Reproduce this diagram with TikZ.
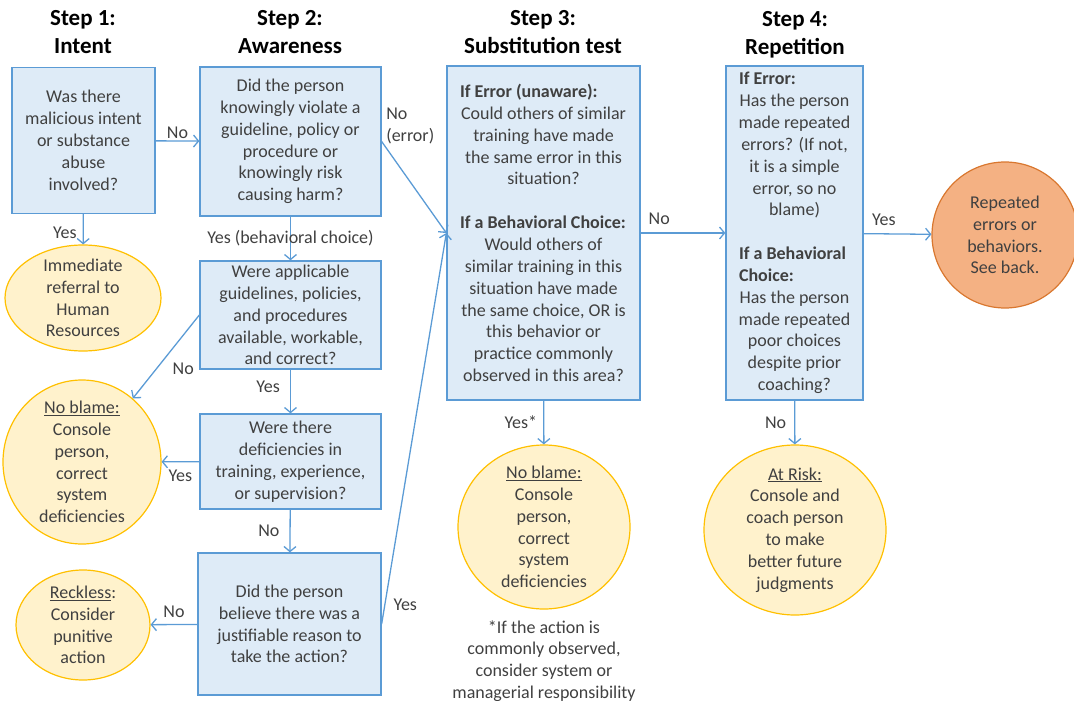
\documentclass[tikz,border=0pt]{standalone}
\usepackage{fontspec}
\setmainfont{Carlito}
\usetikzlibrary{shapes.geometric,arrows.meta}
\definecolor{qfill}{HTML}{DEEBF7}
\definecolor{qline}{HTML}{5B9BD5}
\definecolor{afill}{HTML}{FFF2CC}
\definecolor{aline}{HTML}{FFC000}
\definecolor{rfill}{HTML}{F4B183}
\definecolor{rline}{HTML}{D9772F}
\definecolor{txt}{HTML}{404040}
\newcommand{\boxfont}{\fontsize{18}{21.85}\selectfont}
\newcommand{\stepfont}{\fontsize{23}{28}\selectfont\bfseries}
\newcommand{\hdrline}[2][167pt]{\makebox[#1][l]{\textbf{#2}}}

\begin{document}
\begin{tikzpicture}[x=1pt,y=-1pt,
    qbox/.style={rectangle,draw=qline,fill=qfill,line width=1.3pt,align=center,inner sep=0pt,font=\boxfont,text=txt},
    result/.style={ellipse,draw=aline,fill=afill,line width=1.2pt,align=center,inner sep=-8pt,font=\boxfont,text=txt},
    lab/.style={font=\boxfont,text=txt,inner sep=2pt},
    flow/.style={draw=qline,line width=1.3pt,-{Straight Barb[length=5pt,width=12pt]}},
    steptitle/.style={font=\stepfont,align=center}]
        \useasboundingbox (0,0) rectangle (1074,701);
        \node[steptitle] (t1) at (83,32) {Step 1:\\Intent};
        \node[steptitle] (t2) at (290,32) {Step 2:\\Awareness};
        \node[steptitle] (t3) at (543,32) {Step 3:\\Substitution test};
        \node[steptitle] (t4) at (795,34.5) {Step 4:\\Repetition};
        \node[qbox,minimum width=143pt,minimum height=146pt] (intent) at (83.5,140.5) {Was there\\malicious intent\\or substance\\abuse\\involved?};
        \node[qbox,minimum width=181pt,minimum height=149pt] (aware) at (290.5,141.5) {Did the person\\knowingly violate a\\guideline, policy or\\procedure or\\knowingly risk\\causing harm?};
        \node[qbox,minimum width=181pt,minimum height=108pt] (rules) at (290.5,315) {Were applicable\\guidelines, policies,\\and procedures\\available, workable,\\and correct?};
        \node[qbox,minimum width=181pt,minimum height=95pt] (train) at (290.5,461.5) {Were there\\deficiencies in\\training, experience,\\or supervision?};
        \node[qbox,minimum width=183pt,minimum height=142pt] (just) at (289.5,624) {Did the person\\believe there was a\\justifiable reason to\\take the action?};
        \node[qbox,minimum width=193pt,minimum height=334pt] (subst) at (543.5,233) {\hdrline{If Error (unaware):}\\Could others of similar\\training have made\\the same error in this\\situation?\\[21.85pt]\hdrline{If a Behavioral Choice:}\\Would others of\\similar training in this\\situation have made\\the same choice, OR is\\this behavior or\\practice commonly\\observed in this area?};
        \node[qbox,minimum width=137pt,minimum height=334pt] (repetition) at (794.5,233) {\hdrline[111pt]{If Error:}\\Has the person\\made repeated\\errors? (If not,\\it is a simple\\error, so no\\blame)\\[21.85pt]\hdrline[111pt]{If a Behavioral}\\\hdrline[111pt]{Choice:}\\Has the person\\made repeated\\poor choices\\despite prior\\coaching?};
        \node[result,minimum width=156pt,minimum height=106pt] (hr) at (83,298) {Immediate\\referral to\\Human\\Resources};
        \node[result,minimum width=158pt,minimum height=164pt] (noblame1) at (82,462) {\underline{No blame:}\\Console\\person,\\correct\\system\\deficiencies};
        \node[result,minimum width=134pt,minimum height=110pt] (reckless) at (83,625) {\underline{Reckless}:\\Consider\\punitive\\action};
        \node[result,minimum width=172pt,minimum height=164pt] (noblame2) at (544,527) {\underline{No blame:}\\Console\\person,\\correct\\system\\deficiencies};
        \node[result,minimum width=182pt,minimum height=170pt] (atrisk) at (795,530) {\underline{At Risk:}\\Console and\\coach person\\to make\\better future\\judgments};
        \node[result,fill=rfill,draw=rline,minimum width=146pt,minimum height=146pt] (seeback) at (1005,235) {Repeated\\errors or\\behaviors.\\See back.};
        \node[lab,align=center] (note) at (544,661) {*If the action is\\commonly observed,\\consider system or\\managerial responsibility};
        \draw[flow] (intent) -- node[lab,above] {No} (aware);
        \draw[flow] (intent) -- node[lab,pos=0.6,left=4pt] {Yes} (hr);
        \draw[flow] (aware.east) -- node[lab,pos=0,above right,align=left,xshift=2pt,yshift=-5pt] {No\\(error)} (subst.west);
        \draw[flow] (aware) -- node[lab] {Yes (behavioral choice)} (rules);
        \draw[flow] (rules.west) -- node[lab,below right=4pt] {No} (noblame1);
        \draw[flow] (rules) -- node[lab,pos=0.4,left=8pt] {Yes} (train);
        \draw[flow] (train) -- node[lab,below=6pt] {Yes} (noblame1);
        \draw[flow] (train) -- node[lab,left=8pt] {No} (just);
        \draw[flow] (just) -- node[lab,above=4pt] {No} (reckless);
        \draw[flow] (just.east) -- node[lab,pos=0.05,right=6pt] {Yes} (subst.west);
        \draw[flow] (subst) -- node[lab,pos=0.22,above=6pt] {No} (repetition);
        \draw[flow] (subst) -- node[lab,left=4pt] {Yes*} (noblame2);
        \draw[flow] (repetition) -- node[lab,pos=0.3,above=6pt] {Yes} (seeback);
        \draw[flow] (repetition) -- node[lab,left=6pt] {No} (atrisk);
\end{tikzpicture}
\end{document}
